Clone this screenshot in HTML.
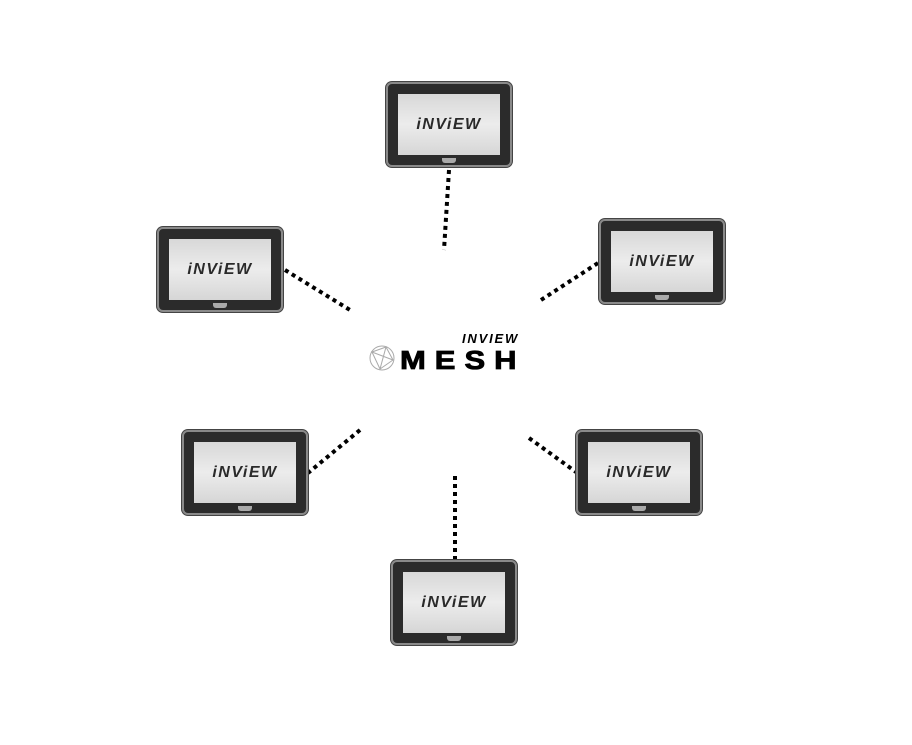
<!DOCTYPE html>
<html><head><style>
html,body{margin:0;padding:0;background:#fff;width:912px;height:745px;overflow:hidden}
.t{position:absolute;width:122px;height:81px;background:#2b2b2b;border:2px solid #8a8a8a;border-radius:6px;box-shadow:0 0 0 1px #444}
.t .s{position:absolute;left:10px;top:10px;width:102px;height:61px;background:linear-gradient(#d8d8d8,#ececec 50%,#d6d6d6);display:flex;align-items:center;justify-content:center;font:italic bold 16px "Liberation Sans",sans-serif;letter-spacing:1.5px;color:#2a2a2a}
.t .b{position:absolute;left:54px;bottom:2px;width:14px;height:5px;background:#aaa;border-radius:0 0 3px 3px}
</style></head><body>
<svg width="912" height="745" style="position:absolute;left:0;top:0">
<g stroke="#000" stroke-width="4" stroke-dasharray="4 4" fill="none">
<line x1="449" y1="170" x2="444" y2="250"/>
<line x1="285" y1="270" x2="350" y2="310"/>
<line x1="598" y1="263" x2="541" y2="300"/>
<line x1="360" y1="430" x2="308" y2="473"/>
<line x1="529" y1="438" x2="576" y2="472"/>
<line x1="455" y1="476" x2="455" y2="560"/>
</g>
<g stroke="#aaa" fill="none" stroke-width="1">
<circle cx="382" cy="358" r="12"/>
<path d="M372 352 L386 347 L393 360 L380 369 L372 352 L393 360 M386 347 L380 369"/>
</g>
<text x="462" y="343" font-family="Liberation Sans,sans-serif" font-style="italic" font-weight="bold" font-size="13" letter-spacing="1.8">INVIEW</text>
<text x="400" y="369" font-family="Liberation Sans,sans-serif" font-weight="bold" font-size="31" letter-spacing="9" stroke="#000" stroke-width="1" transform="scale(1,0.85)" transform-origin="400 369">MESH</text>
</svg>
<div class="t" style="left:386px;top:82px"><div class="s">iNViEW</div><div class="b"></div></div>
<div class="t" style="left:157px;top:227px"><div class="s">iNViEW</div><div class="b"></div></div>
<div class="t" style="left:599px;top:219px"><div class="s">iNViEW</div><div class="b"></div></div>
<div class="t" style="left:182px;top:430px"><div class="s">iNViEW</div><div class="b"></div></div>
<div class="t" style="left:576px;top:430px"><div class="s">iNViEW</div><div class="b"></div></div>
<div class="t" style="left:391px;top:560px"><div class="s">iNViEW</div><div class="b"></div></div>
</body></html>
